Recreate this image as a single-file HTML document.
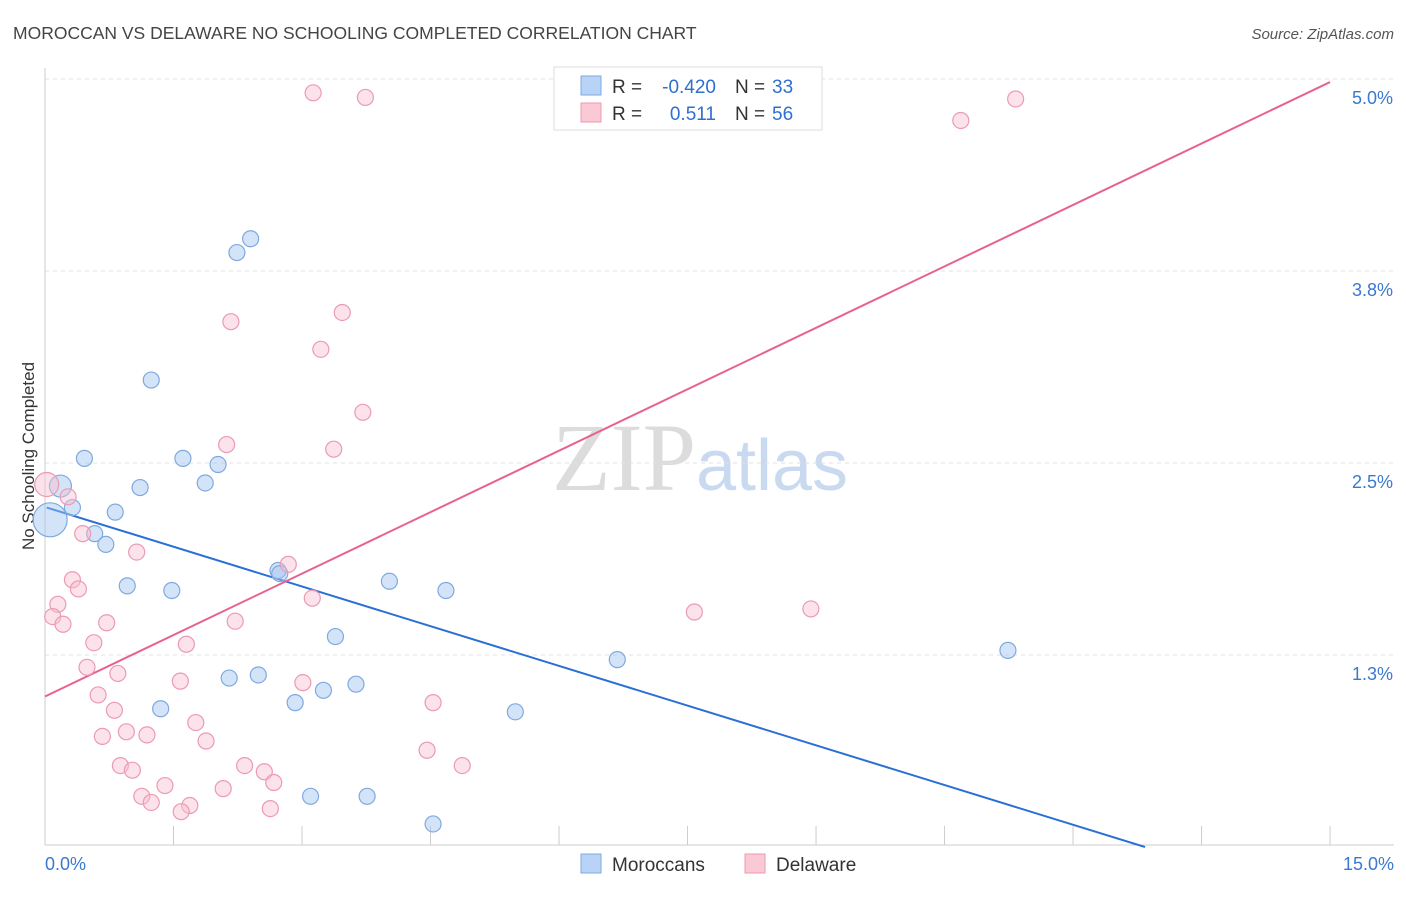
<!DOCTYPE html>
<html><head><meta charset="utf-8"><style>
body{margin:0;background:#fff;font-family:"Liberation Sans",sans-serif}
svg text{font-family:"Liberation Sans",sans-serif}
</style></head><body>
<svg id="chart" width="1406" height="892" xmlns="http://www.w3.org/2000/svg">
<text x="13" y="39" font-size="17.5" fill="#444">MOROCCAN VS DELAWARE NO SCHOOLING COMPLETED CORRELATION CHART</text>
<text x="1394" y="39" font-size="15" fill="#555" text-anchor="end" font-style="italic">Source: ZipAtlas.com</text>
<text x="700" y="490" font-size="96" text-anchor="middle"><tspan fill="#dcdcdc" font-family="Liberation Serif">ZIP</tspan><tspan fill="#c9daf0" font-size="72">atlas</tspan></text>
<text transform="translate(34,456) rotate(-90)" font-size="17" fill="#333" text-anchor="middle">No Schooling Completed</text>
<g id="grid"></g><g id="axes"></g><g id="lines"></g><g id="pts"></g>
<g>
<rect x="554" y="67" width="268" height="63" fill="#fff" stroke="#ddd"/>
<rect x="581" y="76" width="20" height="19" fill="#b8d3f5" stroke="#7fa9e0"/>
<rect x="581" y="103" width="20" height="19" fill="#f9c9d6" stroke="#ec9ab2"/>
<text x="612" y="93" font-size="19" fill="#333">R =</text>
<text x="716" y="93" font-size="19" fill="#2f6fcf" text-anchor="end">-0.420</text>
<text x="735" y="93" font-size="19" fill="#333">N =</text>
<text x="772" y="93" font-size="19" fill="#2f6fcf">33</text>
<text x="612" y="120" font-size="19" fill="#333">R =</text>
<text x="716" y="120" font-size="19" fill="#2f6fcf" text-anchor="end">0.511</text>
<text x="735" y="120" font-size="19" fill="#333">N =</text>
<text x="772" y="120" font-size="19" fill="#2f6fcf">56</text>
</g>
<g>
<rect x="581" y="854" width="20" height="19" fill="#b8d3f5" stroke="#7fa9e0"/>
<text x="612" y="871" font-size="19" fill="#333">Moroccans</text>
<rect x="745" y="854" width="20" height="19" fill="#f9c9d6" stroke="#ec9ab2"/>
<text x="776" y="871" font-size="19" fill="#333">Delaware</text>
</g>
</svg>
<script>
const blueX=[.18,.06,.46,.32,.58,.71,.82,1.11,1.24,2.24,2.40,1.61,1.87,2.02,.96,1.48,2.72,2.74,4.02,4.68,3.39,2.15,2.49,3.25,3.63,2.92,1.35,5.49,6.68,11.24,3.10,3.76,4.53];
const blueY=[2.35,2.13,2.53,2.21,2.04,1.97,2.18,2.34,3.04,3.87,3.96,2.53,2.37,2.49,1.70,1.67,1.80,1.78,1.73,1.67,1.37,1.10,1.12,1.02,1.06,.94,.90,.88,1.22,1.28,.33,.33,.15];
const blueR=[11,17,8,8,8,8,8,8,8,8,8,8,8,8,8,8,8,8,8,8,8,8,8,8,8,8,8,8,8,8,8,8,8];
const pinkX=[3.13,3.74,11.33,10.69,2.17,3.47,3.22,3.71,2.12,3.37,.02,.27,.44,1.07,2.84,.32,.39,.15,.09,.21,.72,3.12,2.22,.57,1.65,.49,.85,.62,1.58,3.01,.81,1.76,.67,.95,1.19,1.88,4.53,7.58,8.94,4.46,4.87,.88,1.02,2.33,2.56,1.40,2.08,2.67,1.13,1.24,1.69,1.59,2.63];
const pinkY=[4.91,4.88,4.87,4.73,3.42,3.48,3.24,2.83,2.62,2.59,2.36,2.28,2.04,1.92,1.84,1.74,1.68,1.58,1.50,1.45,1.46,1.62,1.47,1.33,1.32,1.17,1.13,.99,1.08,1.07,.89,.81,.72,.75,.73,.69,.94,1.53,1.55,.63,.53,.53,.50,.53,.49,.40,.38,.42,.33,.29,.27,.23,.25];
const blueTrendX=[0.02,12.84], blueTrendY=[2.21,0];
const pinkTrendX=[0,15], pinkTrendY=[0.98,4.98];
const yTicks=[1.25,2.5,3.75,5.0], yTickLabels=["1.3%","2.5%","3.8%","5.0%"];
const xTicks=[0,1.5,3,4.5,6,7.5,9,10.5,12,13.5,15];
const NS="http://www.w3.org/2000/svg";
const sx=v=>45+v*85.67, sy=v=>847-v*153.6;
function mk(tag,attrs,parent){const e=document.createElementNS(NS,tag);for(const k in attrs)e.setAttribute(k,attrs[k]);document.getElementById(parent).appendChild(e);return e;}
yTicks.forEach((t,i)=>{
 const g=mk('line',{x1:45,x2:1394,y1:sy(t),y2:sy(t),stroke:'#e2e2e2','stroke-dasharray':'4,4'},'grid');
 
 
 const l=mk('text',{x:1393,y:sy(t)+25,'font-size':18,fill:'#3b78d0','text-anchor':'end'},'grid');
 l.textContent=yTickLabels[i];
 
 
});
const xa=mk('line',{x1:45,x2:1394,y1:845,y2:845,stroke:'#ccc'},'axes');


const ya=mk('line',{x1:45,x2:45,y1:68,y2:845,stroke:'#ccc'},'axes');


xTicks.forEach(t=>{const k=mk('line',{x1:sx(t),x2:sx(t),y1:826,y2:845,stroke:'#ccc'},'axes');
 
 });
[[0,"0.0%","start",45],[15,"15.0%","end",1394]].forEach(a=>{const l=mk('text',{x:a[3],y:870,'font-size':18,fill:'#3b78d0','text-anchor':a[2]},'axes');l.textContent=a[1];
 
 });
blueX.forEach((x,i)=>{const c=mk('circle',{cx:sx(x),cy:sy(blueY[i]),r:blueR[i],fill:'rgba(160,195,240,0.45)',stroke:'#7fa9e0','stroke-width':1.2},'pts');
 
 });
pinkX.forEach((x,i)=>{const c=mk('circle',{cx:sx(x),cy:sy(pinkY[i]),r:i==10?12:8,fill:'rgba(248,190,208,0.45)',stroke:'#ec9ab2','stroke-width':1.2},'pts');
 
 });
const bl=mk('line',{x1:sx(blueTrendX[0]),y1:sy(blueTrendY[0]),x2:sx(blueTrendX[1]),y2:sy(blueTrendY[1]),stroke:'#2a6fd6','stroke-width':2},'lines');


const pl=mk('line',{x1:sx(pinkTrendX[0]),y1:sy(pinkTrendY[0]),x2:sx(pinkTrendX[1]),y2:sy(pinkTrendY[1]),stroke:'#e8628e','stroke-width':2},'lines');


</script>
</body></html>
